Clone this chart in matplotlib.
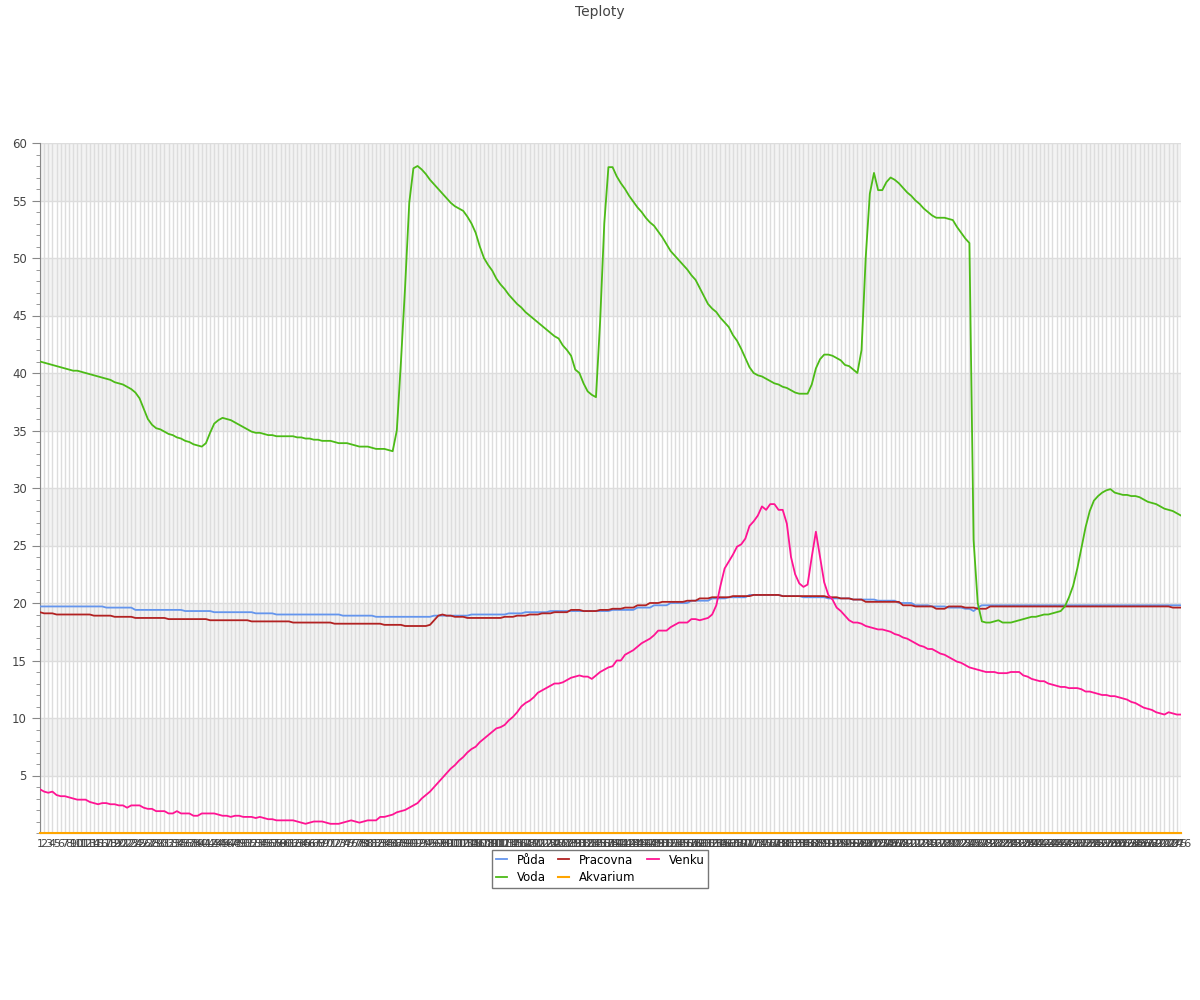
import matplotlib
matplotlib.use("Agg")
import matplotlib.pyplot as plt
from matplotlib.ticker import MultipleLocator

# measurements, one value per sample (index 1..N)
puda = [
  19.7, 19.7, 19.7, 19.7, 19.7, 19.7, 19.7, 19.7, 19.7, 19.7,
  19.7, 19.7, 19.7, 19.7, 19.7, 19.7, 19.6, 19.6, 19.6, 19.6,
  19.6, 19.6, 19.6, 19.4, 19.4, 19.4, 19.4, 19.4, 19.4, 19.4,
  19.4, 19.4, 19.4, 19.4, 19.4, 19.3, 19.3, 19.3, 19.3, 19.3,
  19.3, 19.3, 19.2, 19.2, 19.2, 19.2, 19.2, 19.2, 19.2, 19.2,
  19.2, 19.2, 19.1, 19.1, 19.1, 19.1, 19.1, 19.0, 19.0, 19.0,
  19.0, 19.0, 19.0, 19.0, 19.0, 19.0, 19.0, 19.0, 19.0, 19.0,
  19.0, 19.0, 19.0, 18.9, 18.9, 18.9, 18.9, 18.9, 18.9, 18.9,
  18.9, 18.8, 18.8, 18.8, 18.8, 18.8, 18.8, 18.8, 18.8, 18.8,
  18.8, 18.8, 18.8, 18.8, 18.8, 18.9, 18.9, 18.9, 18.9, 18.9,
  18.9, 18.9, 18.9, 18.9, 19.0, 19.0, 19.0, 19.0, 19.0, 19.0,
  19.0, 19.0, 19.0, 19.1, 19.1, 19.1, 19.1, 19.2, 19.2, 19.2,
  19.2, 19.2, 19.2, 19.3, 19.3, 19.3, 19.3, 19.3, 19.3, 19.3,
  19.3, 19.3, 19.3, 19.3, 19.3, 19.3, 19.3, 19.3, 19.4, 19.4,
  19.4, 19.4, 19.4, 19.4, 19.6, 19.6, 19.6, 19.6, 19.8, 19.8,
  19.8, 19.8, 20.0, 20.0, 20.0, 20.0, 20.0, 20.2, 20.2, 20.2,
  20.2, 20.2, 20.4, 20.4, 20.4, 20.4, 20.5, 20.5, 20.5, 20.5,
  20.5, 20.7, 20.7, 20.7, 20.7, 20.7, 20.7, 20.7, 20.7, 20.6,
  20.6, 20.6, 20.6, 20.6, 20.5, 20.5, 20.5, 20.5, 20.5, 20.5,
  20.4, 20.4, 20.4, 20.4, 20.4, 20.4, 20.3, 20.3, 20.3, 20.3,
  20.3, 20.3, 20.2, 20.2, 20.2, 20.2, 20.2, 20.0, 20.0, 20.0,
  20.0, 19.8, 19.8, 19.8, 19.8, 19.7, 19.7, 19.7, 19.7, 19.6,
  19.6, 19.6, 19.6, 19.5, 19.5, 19.3, 19.6, 19.8, 19.8, 19.8,
  19.8, 19.8, 19.8, 19.8, 19.8, 19.8, 19.8, 19.8, 19.8, 19.8,
  19.8, 19.8, 19.8, 19.8, 19.8, 19.8, 19.8, 19.8, 19.8, 19.8,
  19.8, 19.8, 19.8, 19.8, 19.8, 19.8, 19.8, 19.8, 19.8, 19.8,
  19.8, 19.8, 19.8, 19.8, 19.8, 19.8, 19.8, 19.8, 19.8, 19.8,
  19.8, 19.8, 19.8, 19.8, 19.8, 19.8,
]

pracovna = [
  19.2, 19.1, 19.1, 19.1, 19.0, 19.0, 19.0, 19.0, 19.0, 19.0,
  19.0, 19.0, 19.0, 18.9, 18.9, 18.9, 18.9, 18.9, 18.8, 18.8,
  18.8, 18.8, 18.8, 18.7, 18.7, 18.7, 18.7, 18.7, 18.7, 18.7,
  18.7, 18.6, 18.6, 18.6, 18.6, 18.6, 18.6, 18.6, 18.6, 18.6,
  18.6, 18.5, 18.5, 18.5, 18.5, 18.5, 18.5, 18.5, 18.5, 18.5,
  18.5, 18.4, 18.4, 18.4, 18.4, 18.4, 18.4, 18.4, 18.4, 18.4,
  18.4, 18.3, 18.3, 18.3, 18.3, 18.3, 18.3, 18.3, 18.3, 18.3,
  18.3, 18.2, 18.2, 18.2, 18.2, 18.2, 18.2, 18.2, 18.2, 18.2,
  18.2, 18.2, 18.2, 18.1, 18.1, 18.1, 18.1, 18.1, 18.0, 18.0,
  18.0, 18.0, 18.0, 18.0, 18.1, 18.5, 18.9, 19.0, 18.9, 18.9,
  18.8, 18.8, 18.8, 18.7, 18.7, 18.7, 18.7, 18.7, 18.7, 18.7,
  18.7, 18.7, 18.8, 18.8, 18.8, 18.9, 18.9, 18.9, 19.0, 19.0,
  19.0, 19.1, 19.1, 19.1, 19.2, 19.2, 19.2, 19.2, 19.4, 19.4,
  19.4, 19.3, 19.3, 19.3, 19.3, 19.4, 19.4, 19.4, 19.5, 19.5,
  19.5, 19.6, 19.6, 19.6, 19.8, 19.8, 19.8, 20.0, 20.0, 20.0,
  20.1, 20.1, 20.1, 20.1, 20.1, 20.1, 20.2, 20.2, 20.2, 20.4,
  20.4, 20.4, 20.5, 20.5, 20.5, 20.5, 20.5, 20.6, 20.6, 20.6,
  20.6, 20.6, 20.7, 20.7, 20.7, 20.7, 20.7, 20.7, 20.7, 20.6,
  20.6, 20.6, 20.6, 20.6, 20.6, 20.6, 20.6, 20.6, 20.6, 20.6,
  20.5, 20.5, 20.5, 20.4, 20.4, 20.4, 20.3, 20.3, 20.3, 20.1,
  20.1, 20.1, 20.1, 20.1, 20.1, 20.1, 20.1, 20.1, 19.8, 19.8,
  19.8, 19.7, 19.7, 19.7, 19.7, 19.7, 19.5, 19.5, 19.5, 19.7,
  19.7, 19.7, 19.7, 19.6, 19.6, 19.6, 19.5, 19.5, 19.5, 19.7,
  19.7, 19.7, 19.7, 19.7, 19.7, 19.7, 19.7, 19.7, 19.7, 19.7,
  19.7, 19.7, 19.7, 19.7, 19.7, 19.7, 19.7, 19.7, 19.7, 19.7,
  19.7, 19.7, 19.7, 19.7, 19.7, 19.7, 19.7, 19.7, 19.7, 19.7,
  19.7, 19.7, 19.7, 19.7, 19.7, 19.7, 19.7, 19.7, 19.7, 19.7,
  19.7, 19.7, 19.7, 19.6, 19.6, 19.6,
]

venku = [
  3.8, 3.6, 3.5, 3.6, 3.3, 3.2, 3.2, 3.1, 3.0, 2.9,
  2.9, 2.9, 2.7, 2.6, 2.5, 2.6, 2.6, 2.5, 2.5, 2.4,
  2.4, 2.2, 2.4, 2.4, 2.4, 2.2, 2.1, 2.1, 1.9, 1.9,
  1.9, 1.7, 1.7, 1.9, 1.7, 1.7, 1.7, 1.5, 1.5, 1.7,
  1.7, 1.7, 1.7, 1.6, 1.5, 1.5, 1.4, 1.5, 1.5, 1.4,
  1.4, 1.4, 1.3, 1.4, 1.3, 1.2, 1.2, 1.1, 1.1, 1.1,
  1.1, 1.1, 1.0, 0.9, 0.8, 0.9, 1.0, 1.0, 1.0, 0.9,
  0.8, 0.8, 0.8, 0.9, 1.0, 1.1, 1.0, 0.9, 1.0, 1.1,
  1.1, 1.1, 1.4, 1.4, 1.5, 1.6, 1.8, 1.9, 2.0, 2.2,
  2.4, 2.6, 3.0, 3.3, 3.6, 4.0, 4.4, 4.8, 5.2, 5.6,
  5.9, 6.3, 6.6, 7.0, 7.3, 7.5, 7.9, 8.2, 8.5, 8.8,
  9.1, 9.2, 9.4, 9.8, 10.1, 10.5, 11.0, 11.3, 11.5, 11.8,
  12.2, 12.4, 12.6, 12.8, 13.0, 13.0, 13.1, 13.3, 13.5, 13.6,
  13.7, 13.6, 13.6, 13.4, 13.7, 14.0, 14.2, 14.4, 14.5, 15.0,
  15.0, 15.5, 15.7, 15.9, 16.2, 16.5, 16.7, 16.9, 17.2, 17.6,
  17.6, 17.6, 17.9, 18.1, 18.3, 18.3, 18.3, 18.6, 18.6, 18.5,
  18.6, 18.7, 19.0, 19.8, 21.5, 23.0, 23.6, 24.2, 24.9, 25.1,
  25.6, 26.7, 27.1, 27.6, 28.4, 28.1, 28.6, 28.6, 28.1, 28.1,
  26.9, 24.0, 22.5, 21.7, 21.4, 21.6, 24.0, 26.2, 24.0, 21.8,
  20.7, 20.3, 19.6, 19.3, 18.9, 18.5, 18.3, 18.3, 18.2, 18.0,
  17.9, 17.8, 17.7, 17.7, 17.6, 17.5, 17.3, 17.2, 17.0, 16.9,
  16.7, 16.5, 16.3, 16.2, 16.0, 16.0, 15.8, 15.6, 15.5, 15.3,
  15.1, 14.9, 14.8, 14.6, 14.4, 14.3, 14.2, 14.1, 14.0, 14.0,
  14.0, 13.9, 13.9, 13.9, 14.0, 14.0, 14.0, 13.7, 13.6, 13.4,
  13.3, 13.2, 13.2, 13.0, 12.9, 12.8, 12.7, 12.7, 12.6, 12.6,
  12.6, 12.5, 12.3, 12.3, 12.2, 12.1, 12.0, 12.0, 11.9, 11.9,
  11.8, 11.7, 11.6, 11.4, 11.3, 11.1, 10.9, 10.8, 10.7, 10.5,
  10.4, 10.3, 10.5, 10.4, 10.3, 10.3,
]

voda = [
  41.0, 40.9, 40.8, 40.7, 40.6, 40.5, 40.4, 40.3, 40.2, 40.2,
  40.1, 40.0, 39.9, 39.8, 39.7, 39.6, 39.5, 39.4, 39.2, 39.1,
  39.0, 38.8, 38.6, 38.3, 37.8, 36.9, 36.0, 35.5, 35.2, 35.1,
  34.9, 34.7, 34.6, 34.4, 34.3, 34.1, 34.0, 33.8, 33.7, 33.6,
  33.9, 34.8, 35.6, 35.9, 36.1, 36.0, 35.9, 35.7, 35.5, 35.3,
  35.1, 34.9, 34.8, 34.8, 34.7, 34.6, 34.6, 34.5, 34.5, 34.5,
  34.5, 34.5, 34.4, 34.4, 34.3, 34.3, 34.2, 34.2, 34.1, 34.1,
  34.1, 34.0, 33.9, 33.9, 33.9, 33.8, 33.7, 33.6, 33.6, 33.6,
  33.5, 33.4, 33.4, 33.4, 33.3, 33.2, 35.0, 41.0, 47.5, 54.8,
  57.8, 58.0, 57.7, 57.3, 56.8, 56.4, 56.0, 55.6, 55.2, 54.8,
  54.5, 54.3, 54.1, 53.6, 53.0, 52.2, 51.0, 50.0, 49.4, 48.9,
  48.2, 47.7, 47.3, 46.8, 46.4, 46.0, 45.7, 45.3, 45.0, 44.7,
  44.4, 44.1, 43.8, 43.5, 43.2, 43.0, 42.4, 42.0, 41.5, 40.3,
  40.0, 39.1, 38.4, 38.1, 37.9, 44.5, 53.0, 57.9, 57.9, 57.1,
  56.5, 56.0, 55.4, 54.9, 54.4, 54.0, 53.5, 53.1, 52.8, 52.3,
  51.8, 51.2, 50.6, 50.2, 49.8, 49.4, 49.0, 48.5, 48.1, 47.4,
  46.7, 46.0, 45.6, 45.3, 44.8, 44.4, 44.0, 43.3, 42.8, 42.1,
  41.3, 40.5, 40.0, 39.8, 39.7, 39.5, 39.3, 39.1, 39.0, 38.8,
  38.7, 38.5, 38.3, 38.2, 38.2, 38.2, 39.0, 40.4, 41.2, 41.6,
  41.6, 41.5, 41.3, 41.1, 40.7, 40.6, 40.3, 40.0, 42.0, 50.0,
  55.6, 57.4, 55.9, 55.9, 56.6, 57.0, 56.8, 56.5, 56.1, 55.7,
  55.4, 55.0, 54.7, 54.3, 54.0, 53.7, 53.5, 53.5, 53.5, 53.4,
  53.3, 52.7, 52.2, 51.7, 51.3, 25.5, 20.0, 18.4, 18.3, 18.3,
  18.4, 18.5, 18.3, 18.3, 18.3, 18.4, 18.5, 18.6, 18.7, 18.8,
  18.8, 18.9, 19.0, 19.0, 19.1, 19.2, 19.3, 19.7, 20.5, 21.5,
  23.0, 24.8, 26.6, 28.0, 28.9, 29.3, 29.6, 29.8, 29.9, 29.6,
  29.5, 29.4, 29.4, 29.3, 29.3, 29.2, 29.0, 28.8, 28.7, 28.6,
  28.4, 28.2, 28.1, 28.0, 27.8, 27.6,
]

# aquarium sensor reports 0 the whole time
akvarium = [0.0] * len(voda)

x = list(range(1, len(voda) + 1))
x_labels = [str(i) for i in x]

fig = plt.figure(figsize=(12, 10), dpi=100)
ax = fig.add_axes([0.0333, 0.167, 0.9509, 0.690])

# alternating bands
for lo in range(5, 60, 10):
  ax.axhspan(lo, lo + 5, color="#f3f3f3", zorder=0, lw=0)

ax.plot(x, puda, color="#6495ed", lw=1.3, label="Půda", zorder=3)
ax.plot(x, pracovna, color="#b22222", lw=1.3, label="Pracovna", zorder=4)
ax.plot(x, voda, color="#4cbb17", lw=1.3, label="Voda", zorder=5)
ax.plot(x, venku, color="#ff1493", lw=1.3, label="Venku", zorder=5)
ax.plot(x, akvarium, color="#ffa500", lw=1.5, label="Akvarium", zorder=6, clip_on=False)

ax.set_xlim(1, len(x))
ax.set_ylim(0, 60)
ax.set_xticks(x)
ax.set_xticklabels(x_labels, fontsize=8, color="#444444")
ax.tick_params(axis="x", length=0, pad=4)

ax.set_yticks(range(5, 61, 5))
ax.yaxis.set_minor_locator(MultipleLocator(1))
ax.tick_params(axis="y", which="major", length=6, color="#888888", labelsize=8.5, labelcolor="#444444")
ax.tick_params(axis="y", which="minor", length=3, color="#888888")

ax.grid(True, axis="both", color="#dddddd", lw=1, zorder=1)
ax.set_axisbelow(True)
for side in ["top", "right"]:
  ax.spines[side].set_visible(False)
ax.spines["left"].set_color("#888888")
ax.spines["bottom"].set_color("#888888")

fig.text(0.5, 0.995, "Teploty", ha="center", va="top", fontsize=10, color="#444444")

handles, labels = ax.get_legend_handles_labels()
order = ["Půda", "Voda", "Pracovna", "Akvarium", "Venku"]
h = [handles[labels.index(n)] for n in order]
leg = fig.legend(h, order, loc="upper center", bbox_to_anchor=(0.5, 0.150), ncol=3,
                 fontsize=8.5, fancybox=False, edgecolor="#777777", framealpha=1,
                 handlelength=1.0, handletextpad=0.8, columnspacing=1.0,
                 borderpad=0.3, labelspacing=0.4, borderaxespad=0)
leg.get_frame().set_linewidth(1)

fig.savefig("out.png", dpi=100)
